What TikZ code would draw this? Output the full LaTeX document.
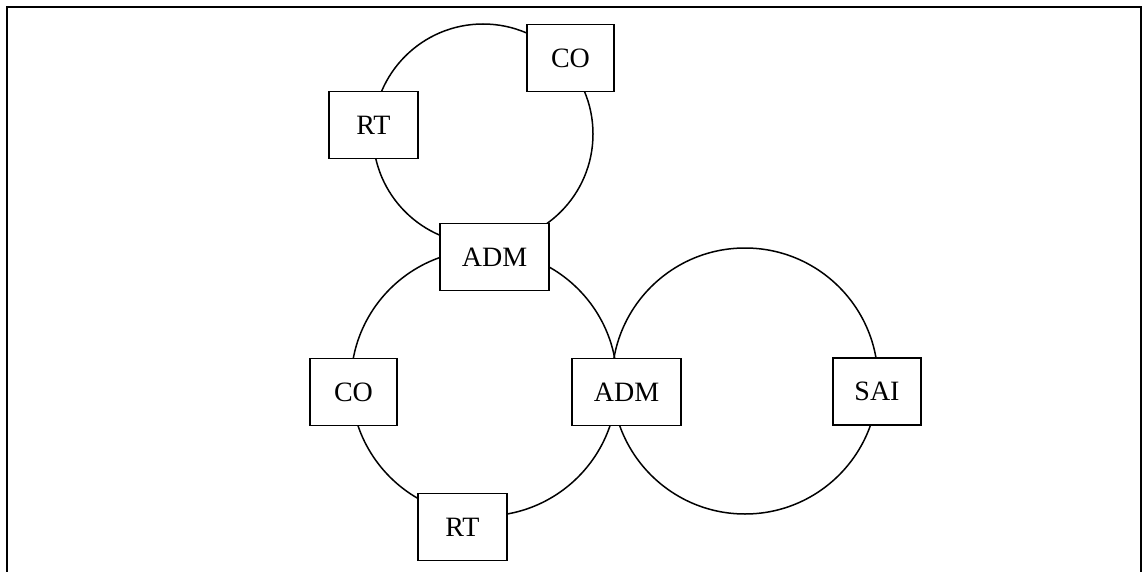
\documentclass[tikz,border=0pt]{standalone}
\usepackage{fontspec}
\setmainfont{Liberation Serif}
\begin{document}
\begin{tikzpicture}[x=1pt,y=-1pt,
  ring/.style={circle, draw, line width=1.5pt, inner sep=0pt},
  site/.style={rectangle, draw, fill=white, line width=1.6pt, inner sep=0pt,
    minimum height=67pt, font=\fontsize{28}{30}\selectfont},
  narrow/.style={site, minimum width=88pt},
  wide/.style={site, minimum width=109pt}]
  \useasboundingbox (0,0) rectangle (1143,572);
  % outer frame, open at the bottom
  \coordinate (fbl) at (7,580);
  \coordinate (ftl) at (7,7);
  \coordinate (ftr) at (1141,7);
  \coordinate (fbr) at (1141,580);
  \draw[line width=2pt] (fbl) -- (ftl) -- (ftr) -- (fbr);
  % the three rings
  \node[ring, minimum size=220pt] (ringtop) at (483,134) {};
  \node[ring, minimum size=266pt] (ringleft) at (484,383) {};
  \node[ring, minimum size=266pt] (ringright) at (745,381) {};
  % network elements on the rings
  \node[narrow, minimum width=89pt] (rt1) at (373.5,125) {RT};
  \node[narrow, minimum width=87pt] (co1) at (570.5,58) {CO};
  \node[wide] (adm1) at (494.5,257) {ADM};
  \node[narrow, minimum width=87pt] (co2) at (353.5,392) {CO};
  \node[wide] (adm2) at (626.5,392) {ADM};
  \node[narrow, minimum width=89pt] (rt2) at (462.5,527) {RT};
  \node[narrow] (sai) at (877,391.5) {SAI};
\end{tikzpicture}
\end{document}
